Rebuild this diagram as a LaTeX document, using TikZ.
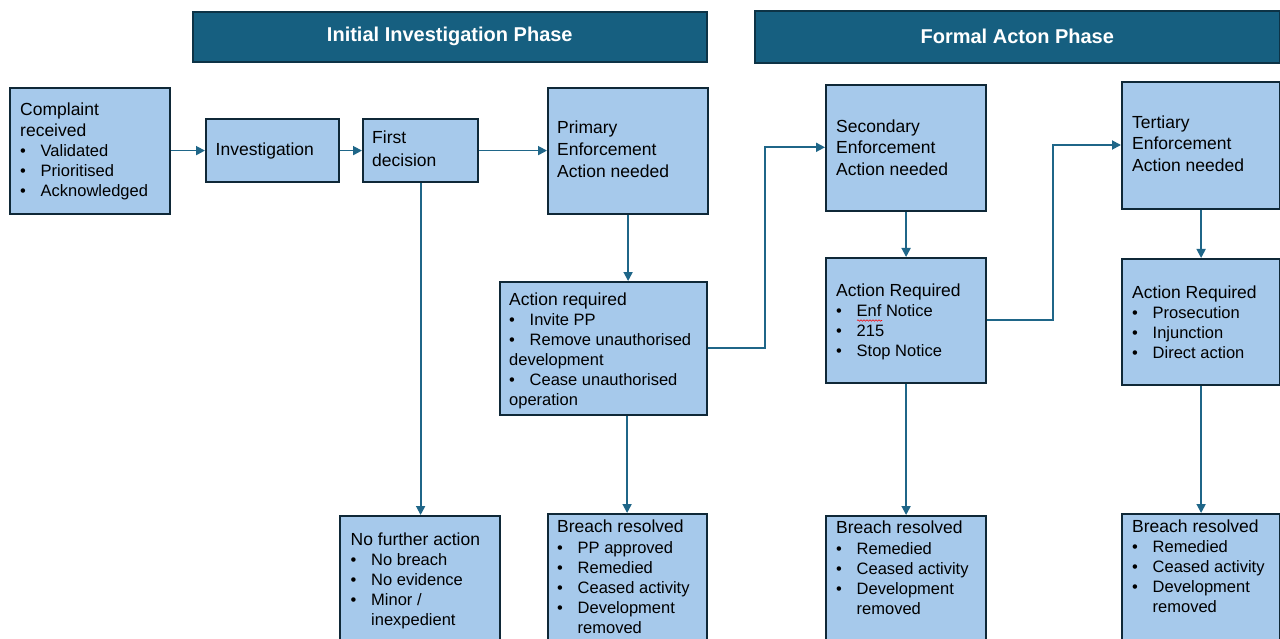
\documentclass[tikz,border=0pt]{standalone}
\usepackage{fontspec}
\setmainfont{Liberation Sans}
\usetikzlibrary{arrows.meta,calc,decorations.pathmorphing}
\definecolor{boxfill}{HTML}{A6C9EB}
\definecolor{boxline}{HTML}{0F2837}
\definecolor{conn}{HTML}{1F6688}
\definecolor{hdrfill}{HTML}{165F80}
\definecolor{hdrline}{HTML}{0D3346}
\newcommand{\hd}[1]{{\fontsize{17.5}{20}\selectfont #1}}
\newcommand{\bu}{\makebox[20.5pt][l]{\textbullet}}
\newcommand{\ind}{\hspace*{20.5pt}}
\newcommand{\tb}[1]{\begin{tabular}[t]{@{}l@{}}#1\end{tabular}}
\begin{document}
\begin{tikzpicture}[x=1pt,y=-1pt,
  box/.style={draw=boxline,fill=boxfill,line width=2.2pt,inner sep=0pt,anchor=north west},
  hdr/.style={draw=hdrline,fill=hdrfill,line width=1.6pt,inner sep=0pt,anchor=north west,
    text=white,font=\fontsize{20}{24}\selectfont\bfseries},
  txt/.style={anchor=base west,inner sep=0pt,font=\fontsize{16.5}{20}\selectfont},
  arr/.style={draw=conn,line width=1.8pt,-{Triangle[length=9pt,width=9pt]}},
  ln/.style={draw=conn,line width=1.8pt}]
\clip (0,0) rectangle (1280,639);
\fill[white] (0,0) rectangle (1280,639);
% headers
\node[hdr,minimum width=514pt,minimum height=50pt] (h1) at (192,11) {Initial Investigation Phase};
\node[hdr,minimum width=525pt,minimum height=52pt] (h2) at (754,10) {Formal Acton Phase};
% boxes
\node[box,minimum width=160pt,minimum height=126pt] (comp) at (9,87) {};
\node[box,minimum width=133pt,minimum height=63pt] (inv) at (205,118) {};
\node[box,minimum width=115pt,minimum height=63pt] (fd) at (362,118) {};
\node[box,minimum width=160pt,minimum height=126pt] (prim) at (547,87) {};
\node[box,minimum width=207pt,minimum height=133pt] (act1) at (499,281) {};
\node[box,minimum width=160pt,minimum height=140pt] (nfa) at (339,515) {};
\node[box,minimum width=159pt,minimum height=140pt] (br1) at (547,513) {};
\node[box,minimum width=160pt,minimum height=126pt] (sec) at (825,84) {};
\node[box,minimum width=160pt,minimum height=125pt] (ar2) at (825,257) {};
\node[box,minimum width=160pt,minimum height=140pt] (br2) at (825,515) {};
\node[box,minimum width=158pt,minimum height=127pt] (ter) at (1121,81) {};
\node[box,minimum width=158pt,minimum height=126pt] (ar3) at (1121,258) {};
\node[box,minimum width=158pt,minimum height=140pt] (br3) at (1121,513) {};
% texts
\node[txt] (tcomp) at (20,116) {\tb{\hd{Complaint}\\[1pt]\hd{received}\\ \bu Validated\\ \bu Prioritised\\ \bu Acknowledged}};
\node[txt] (tinv) at (215.5,156) {\hd{Investigation}};
\node[txt] (tfd) at (372,144) {\tb{\hd{First}\\[3pt]\hd{decision}}};
\node[txt] (tprim) at (557,134) {\tb{\hd{Primary}\\[2pt]\hd{Enforcement}\\[2pt]\hd{Action needed}}};
\node[txt] (tsec) at (836,133) {\tb{\hd{Secondary}\\[1pt]\hd{Enforcement}\\[2pt]\hd{Action needed}}};
\node[txt] (tter) at (1132,129) {\tb{\hd{Tertiary}\\[1pt]\hd{Enforcement}\\[2pt]\hd{Action needed}}};
\node[txt] (tact1) at (509,305.5) {\tb{\hd{Action required}\\ \bu Invite PP\\ \bu Remove unauthorised\\ development\\ \bu Cease unauthorised\\ operation}};
\node[txt] (tnfa) at (350.5,545.7) {\tb{\hd{No further action}\\ \bu No breach\\ \bu No evidence\\ \bu Minor /\\ \ind inexpedient}};
\node[txt] (tbr1) at (557,532.3) {\tb{\hd{Breach resolved}\\[1pt] \bu PP approved\\ \bu Remedied\\ \bu Ceased activity\\ \bu Development\\ \ind removed}};
\node[txt] (tbr2) at (836,533.3) {\tb{\hd{Breach resolved}\\[1.5pt] \bu Remedied\\ \bu Ceased activity\\ \bu Development\\ \ind removed}};
\node[txt] (tbr3) at (1132,532.3) {\tb{\hd{Breach resolved}\\ \bu Remedied\\ \bu Ceased activity\\ \bu Development\\ \ind removed}};
\node[txt] (tar2) at (836,296.7) {\tb{\hd{Action Required}\\ \bu Enf Notice\\ \bu 215\\ \bu Stop Notice}};
\node[txt] (tar3) at (1132,298.3) {\tb{\hd{Action Required}\\ \bu Prosecution\\ \bu Injunction\\ \bu Direct action}};
% spell-check underline
\coordinate (sq1) at (857,320.5);
\coordinate (sq2) at (882,320.5);
\draw[red,line width=0.6pt,decorate,decoration={snake,amplitude=0.7pt,segment length=3pt}] (sq1) -- (sq2);
% connectors
\draw[arr] (comp.east |- inv.west) -- (inv.west);
\draw[arr] (inv.east) -- (fd.west);
\draw[arr] (fd.east) -- (fd.east -| prim.west);
\draw[arr] (fd.south) -- (fd.south |- nfa.north);
\draw[arr] (prim.south) -- (prim.south |- act1.north);
\coordinate (e1a) at (765,347.7);
\coordinate (e1b) at (765,147.3);
\draw[arr] (act1.east |- e1a) -- (e1a) -- (e1b) -- (e1b -| sec.west);
\draw[arr] ([xshift=23.5pt]act1.south) -- ([xshift=23.5pt]act1.south |- br1.north);
\draw[arr] (sec.south) -- (ar2.north);
\coordinate (e2a) at (1053,320);
\coordinate (e2b) at (1053,145);
\draw[arr] (ar2.east |- e2a) -- (e2a) -- (e2b) -- (e2b -| ter.west);
\draw[arr] (ar2.south) -- (ar2.south |- br2.north);
\draw[arr] (ter.south) -- (ter.south |- ar3.north);
\draw[arr] (ar3.south) -- (ar3.south |- br3.north);
\end{tikzpicture}
\end{document}
